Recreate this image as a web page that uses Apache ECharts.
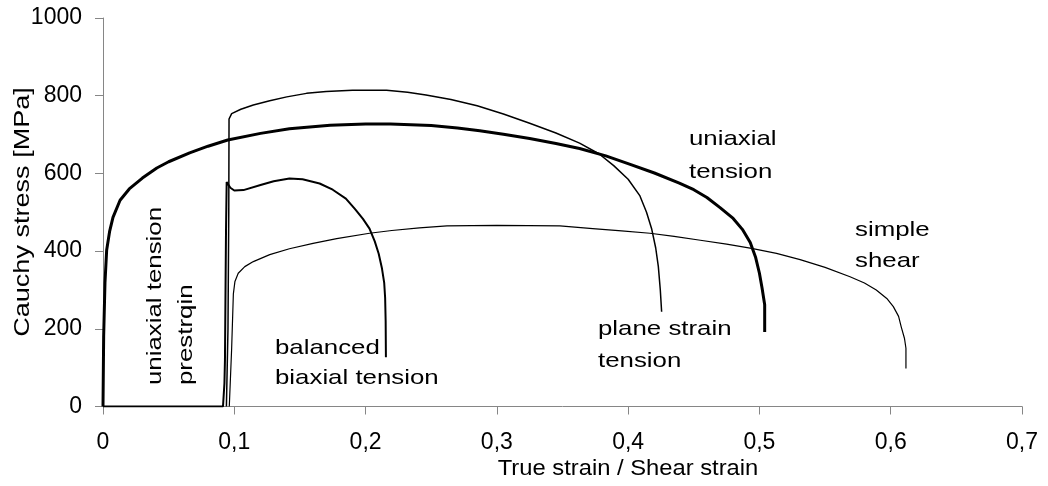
<!DOCTYPE html>
<html>
<head>
<meta charset="utf-8">
<script src="https://cdn.jsdelivr.net/npm/echarts@6/dist/echarts.min.js"></script>
<style>
  html, body { margin: 0; padding: 0; background: #fff; }
  #chart { width: 1048px; height: 486px; }
</style>
</head>
<body>
<div id="chart"></div>
<script>
// axis ticks
const xTickLabels = ['0', '0,1', '0,2', '0,3', '0,4', '0,5', '0,6', '0,7'];
const yTicks = [0, 200, 400, 600, 800, 1000];

// [true strain, Cauchy stress MPa]
const uniaxialTension = [
    [0, 0], [0.0005, 180], [0.0015, 318], [0.0028, 403], [0.005, 450], [0.0076, 487],
    [0.013, 531], [0.02, 560], [0.03, 588], [0.041, 614], [0.05, 630], [0.066, 653],
    [0.08, 670], [0.095, 686], [0.12, 703], [0.142, 715], [0.173, 724], [0.2, 727],
    [0.219, 727], [0.25, 723], [0.27, 717], [0.287, 710], [0.305, 701], [0.325, 690],
    [0.345, 677], [0.363, 664], [0.383, 645], [0.401, 624], [0.42, 601], [0.439, 575],
    [0.45, 558], [0.46, 538], [0.47, 512], [0.48, 484], [0.487, 456], [0.493, 422],
    [0.497, 385], [0.5, 343], [0.502, 305], [0.504, 262], [0.504, 192]
];

const balancedBiaxial = [
    [0, 0], [0.0914, 0], [0.0925, 60], [0.0929, 120], [0.0937, 454], [0.0942, 578],
    [0.097, 563], [0.1, 556], [0.107, 557], [0.12, 570], [0.13, 580], [0.142, 587],
    [0.152, 585], [0.165, 574], [0.175, 558], [0.185, 535], [0.192, 508], [0.198, 483],
    [0.203, 458], [0.207, 425], [0.21, 393], [0.2125, 355], [0.2142, 318], [0.2149, 280],
    [0.2153, 220], [0.2155, 127]
];

const planeStrain = [
    [0.094, 0], [0.0952, 200], [0.0958, 500], [0.096, 740], [0.098, 754], [0.105, 765],
    [0.1145, 776], [0.127, 787], [0.14, 797], [0.155, 806], [0.17, 811], [0.19, 814],
    [0.216, 814], [0.232, 809], [0.246, 802], [0.265, 790], [0.285, 774], [0.305, 753],
    [0.325, 729], [0.345, 704], [0.363, 678], [0.378, 650], [0.389, 620], [0.4, 585],
    [0.409, 542], [0.414, 500], [0.418, 456], [0.421, 408], [0.423, 360], [0.4245, 300],
    [0.4255, 244]
];

const simpleShear = [
    [0.0962, 0], [0.098, 150], [0.0993, 290], [0.1005, 322], [0.103, 343], [0.108, 360],
    [0.1145, 373], [0.127, 391], [0.142, 406], [0.16, 420], [0.178, 432], [0.203, 446],
    [0.22, 453], [0.241, 460], [0.262, 465], [0.3, 466], [0.348, 465], [0.373, 458],
    [0.395, 452], [0.4166, 446], [0.435, 438], [0.455, 428], [0.475, 418], [0.494, 407],
    [0.513, 394], [0.531, 378], [0.55, 358], [0.569, 334], [0.58, 318], [0.589, 300],
    [0.597, 278], [0.602, 257], [0.606, 232], [0.608, 205], [0.6105, 175], [0.6116, 150],
    [0.6116, 98]
];

const FONT = "'Liberation Sans', Arial, sans-serif";
const axisGray = '#868686';

function label(text, x, y, lh, extra) {
    return Object.assign({
        type: 'text',
        x: x,
        y: y,
        scaleX: 1.23,
        silent: true,
        style: {
            text: text,
            font: '21px ' + FONT,
            fill: '#000',
            lineHeight: lh,
            textAlign: 'left',
            textVerticalAlign: 'top'
        }
    }, extra || {});
}

function curve(name, data, width) {
    return {
        name: name,
        type: 'line',
        data: data,
        showSymbol: false,
        symbol: 'none',
        lineStyle: { color: '#000', width: width },
        itemStyle: { color: '#000' }
    };
}

const chart = echarts.init(document.getElementById('chart'), null, { renderer: 'canvas' });

chart.setOption({
    animation: false,
    backgroundColor: '#fff',
    grid: { left: 103, right: 26, top: 18, bottom: 79.5 },
    xAxis: {
        type: 'value',
        min: 0,
        max: 0.7,
        interval: 0.1,
        axisLine: { lineStyle: { color: axisGray, width: 1 } },
        axisTick: { show: true, length: 8, lineStyle: { color: axisGray } },
        splitLine: { show: false },
        axisLabel: {
            color: '#000',
            fontSize: 23,
            fontFamily: FONT,
            margin: 25,
            formatter: v => xTickLabels[Math.round(v * 10)]
        }
    },
    yAxis: {
        type: 'value',
        min: yTicks[0],
        max: yTicks[yTicks.length - 1],
        interval: yTicks[1] - yTicks[0],
        axisLine: { show: true, lineStyle: { color: axisGray, width: 1 } },
        axisTick: { show: true, length: 8, lineStyle: { color: axisGray } },
        splitLine: { show: false },
        axisLabel: {
            color: '#000',
            fontSize: 23,
            fontFamily: FONT,
            margin: 21,
            formatter: v => String(v)
        }
    },
    graphic: [
        // axis titles
        label('Cauchy stress [MPa]', 23, 212, 22, {
            rotation: Math.PI / 2,
            style: { text: 'Cauchy stress [MPa]', font: '22px ' + FONT, fill: '#000',
                textAlign: 'center', textVerticalAlign: 'middle' }
        }),
        label('True strain / Shear strain', 628, 469, 22, {
            scaleX: 1.08,
            style: { text: 'True strain / Shear strain', font: '22px ' + FONT, fill: '#000',
                textAlign: 'center', textVerticalAlign: 'middle' }
        }),
        // curve labels
        label('uniaxial tension\nprestrqin', 139.5, 385, 31, { rotation: Math.PI / 2 }),
        label('balanced\nbiaxial tension', 275, 333, 30),
        label('plane strain\ntension', 598, 313, 32),
        label('simple\nshear', 855, 215, 31),
        label('uniaxial\ntension', 689, 123, 33)
    ],
    series: [
        curve('simple shear', simpleShear, 1.2),
        curve('plane strain tension', planeStrain, 1.5),
        curve('balanced biaxial tension', balancedBiaxial, 2),
        curve('uniaxial tension', uniaxialTension, 3)
    ]
});
</script>
</body>
</html>
